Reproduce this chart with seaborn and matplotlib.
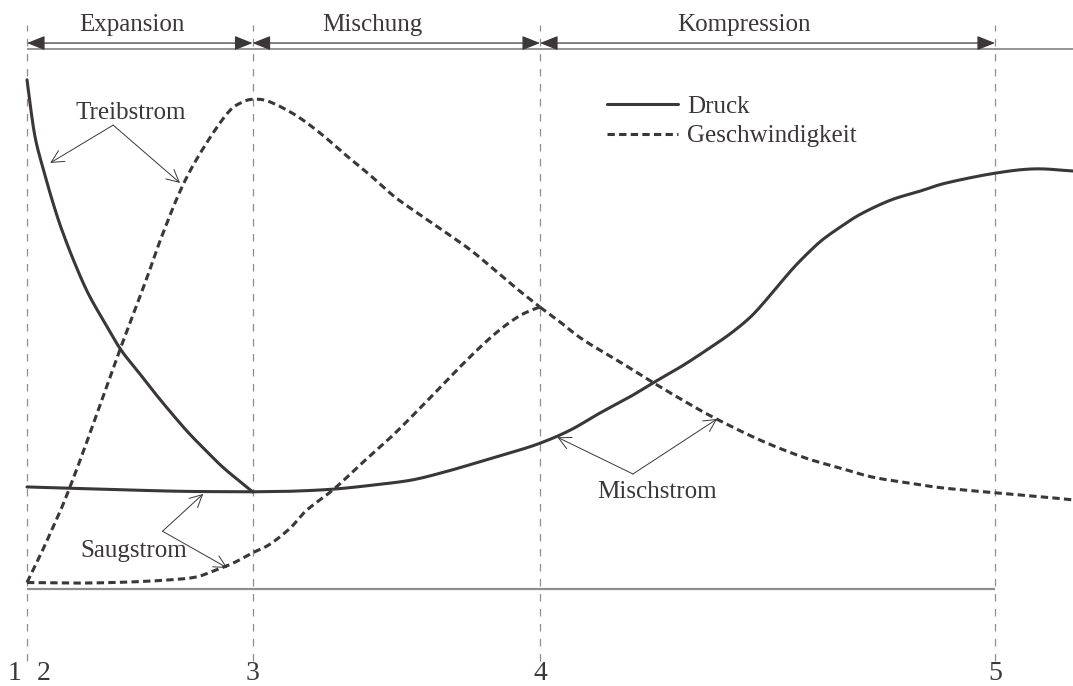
import numpy as np
import matplotlib
matplotlib.use("Agg")
import matplotlib.pyplot as plt
import seaborn as sns

# Axial position in % of ejector length (station 1 = 0, station 5 = 100),
# magnitudes in % of the plot scale (baseline = 0, top rule = 100).
station_names = ["1", "2", "3", "4", "5"]
station_label_x = [-1.3, 1.7, 23.3, 53.0, 100.0]
station_lines_x = [0.0, 23.3, 53.0, 100.0]

section_names = ["Expansion", "Mischung", "Kompression"]
section_start = [0.0, 23.3, 53.0]
section_end = [23.3, 53.0, 100.0]
section_label_x = [10.8, 35.7, 74.1]

# Pressure (Druck)
p_treib_x = [0.0, 0.4, 0.9, 1.7, 2.6, 3.5, 4.8, 6.3, 8.0, 9.7, 11.5, 13.2,
             15.0, 16.7, 18.5, 20.2, 21.8, 23.3]
p_treib_y = [94.3, 88.7, 83.1, 77.6, 72.0, 67.0, 60.9, 54.8, 49.4, 44.3, 40.2,
             36.3, 32.4, 28.9, 25.6, 22.6, 20.2, 18.0]
p_saug_x = [0.0, 7.5, 15.8, 23.3]
p_saug_y = [18.9, 18.5, 18.1, 18.0]
p_misch_x = [23.3, 27.2, 31.7, 36.0, 39.8, 43.2, 46.3, 49.9, 53.0, 56.1, 59.2,
             62.3, 64.8, 67.5, 70.0, 72.6, 74.7, 76.2, 77.8, 79.3, 80.9, 82.2,
             84.0, 86.1, 89.2, 92.3, 95.0, 100.0, 104.1, 108.1]
p_misch_y = [18.0, 18.1, 18.5, 19.3, 20.2, 21.7, 23.3, 25.2, 27.0, 29.4, 32.6,
             35.6, 38.3, 41.1, 44.0, 47.2, 50.3, 53.2, 56.6, 59.7, 62.6, 64.7,
             67.0, 69.4, 72.0, 73.7, 75.2, 77.0, 77.8, 77.4]

# Velocity (Geschwindigkeit)
v_treib_x = [0.0, 1.3, 2.4, 3.8, 5.6, 7.6, 9.7, 12.2, 13.9, 16.0, 18.1, 20.7,
             22.3, 23.6, 25.1, 27.7, 30.3, 32.9, 35.4, 38.0, 40.6, 43.2, 45.8,
             48.1, 50.4, 53.0]
v_treib_y = [1.2, 6.0, 10.3, 16.0, 24.4, 34.4, 44.8, 56.7, 65.2, 74.4, 81.3,
             88.1, 90.2, 90.7, 90.2, 87.8, 84.4, 80.4, 76.7, 72.6, 69.3, 66.1,
             62.8, 59.4, 55.9, 52.2]
v_saug_x = [0.0, 5.5, 10.6, 14.8, 17.4, 19.2, 21.3, 23.3, 25.1, 27.2, 28.9,
            31.7, 34.6, 37.7, 41.1, 44.6, 47.3, 49.2, 50.9, 52.2, 53.0]
v_saug_y = [1.2, 1.1, 1.3, 1.7, 2.2, 3.3, 4.8, 6.7, 8.3, 11.3, 14.6, 18.5,
            23.3, 28.3, 34.4, 40.9, 45.6, 48.5, 50.6, 51.7, 52.2]
v_misch_x = [53.0, 55.1, 57.5, 61.3, 64.8, 67.9, 71.0, 75.7, 80.2, 84.0, 87.4,
             91.2, 94.7, 100.2, 104.1, 108.1]
v_misch_y = [52.2, 49.4, 46.1, 42.0, 38.1, 34.8, 31.7, 27.6, 24.4, 22.4, 20.7,
             19.6, 18.7, 17.8, 17.2, 16.5]

# Callouts: label position, branching point and the two targets
callout_names = ["Treibstrom", "Saugstrom", "Mischstrom"]
callout_text_x = [10.7, 11.0, 65.1]
callout_text_y = [87.0, 5.9, 16.9]
callout_knee_x = [8.9, 14.0, 62.6]
callout_knee_y = [85.9, 10.7, 21.3]
callout_tip1_x = [2.4, 18.2, 54.8]
callout_tip1_y = [78.9, 17.6, 28.1]
callout_tip2_x = [15.8, 20.7, 71.3]
callout_tip2_y = [75.2, 3.9, 31.5]

legend_labels = ["Druck", "Geschwindigkeit"]

INK = "#3b3637"
RULE = "#8e8e8e"
DASHED = (0, (2.4, 1.4))

XLIM = (-2.79, 108.06)
YLIM = (-17.96, 109.07)


def smooth_path(xs, ys, steps=12):
    """Catmull-Rom path through the given points, for a smooth stroke."""
    pts = np.column_stack([xs, ys]).astype(float)
    ext = np.vstack([2 * pts[0] - pts[1], pts, 2 * pts[-1] - pts[-2]])
    out = []
    t = np.linspace(0, 1, steps, endpoint=False)[:, None]
    for i in range(1, len(ext) - 2):
        p0, p1, p2, p3 = ext[i - 1], ext[i], ext[i + 1], ext[i + 2]
        seg = 0.5 * ((2 * p1) + (-p0 + p2) * t
                     + (2 * p0 - 5 * p1 + 4 * p2 - p3) * t ** 2
                     + (-p0 + 3 * p1 - 3 * p2 + p3) * t ** 3)
        out.append(seg)
    out.append(pts[-1][None, :])
    path = np.vstack(out)
    return path[:, 0], path[:, 1]


sns.set_theme(style="white")
plt.rcParams["font.family"] = ["Liberation Serif", "DejaVu Serif"]
plt.rcParams["text.color"] = INK

fig = plt.figure(figsize=(10.73, 6.86), dpi=100)
ax = fig.add_axes([0, 0, 1, 1])
ax.set_xlim(*XLIM)
ax.set_ylim(*YLIM)
ax.axis("off")

yspan = YLIM[1] - YLIM[0]
# station lines
for xs in station_lines_x:
    ax.axvline(xs, ymin=(-13.3 - YLIM[0]) / yspan, ymax=(104.4 - YLIM[0]) / yspan,
               color=RULE, lw=0.9, ls=(0, (6, 6)), zorder=1)

# baseline and top rule
ax.hlines(0, station_lines_x[0], station_lines_x[-1], color=RULE, lw=1.6, zorder=1)
ax.hlines(100, station_lines_x[0], XLIM[1], color=RULE, lw=1.3, zorder=1)

# section dimension arrows
for name, x0, x1, xl in zip(section_names, section_start, section_end, section_label_x):
    ax.annotate("", xy=(x1, 101.1), xytext=(x0, 101.1),
                arrowprops=dict(arrowstyle="<|-|>,head_length=0.55,head_width=0.22",
                                mutation_scale=20, color=INK, lw=0.9,
                                shrinkA=0, shrinkB=0))
    ax.text(xl, 103.3, name, ha="center", va="baseline", fontsize=18, color=INK)

# curves
line_kw = dict(ax=ax, sort=False, color=INK, lw=2.2, estimator=None)
curves = [
    (p_treib_x, p_treib_y, "-"),
    (p_saug_x, p_saug_y, "-"),
    (p_misch_x, p_misch_y, "-"),
    (v_treib_x, v_treib_y, DASHED),
    (v_saug_x, v_saug_y, DASHED),
    (v_misch_x, v_misch_y, DASHED),
]
handles = []
for cx, cy, ls in curves:
    sx, sy = smooth_path(cx, cy)
    n_before = len(ax.lines)
    sns.lineplot(x=sx, y=sy, linestyle=ls, **line_kw)
    handles.append(ax.lines[n_before])

leg = ax.legend(handles=[handles[0], handles[3]], labels=legend_labels,
                loc="upper left", bbox_to_anchor=(59.9, 91.4),
                bbox_transform=ax.transData, frameon=False, fontsize=18,
                handlelength=2.85, handletextpad=0.35, labelspacing=0.28,
                borderpad=0, borderaxespad=0)
for t in leg.get_texts():
    t.set_color(INK)

# callouts
arrow_kw = dict(arrowstyle="->,head_length=0.55,head_width=0.28",
                mutation_scale=16, color=INK, lw=0.7, shrinkA=0, shrinkB=0)
for i, name in enumerate(callout_names):
    ax.text(callout_text_x[i], callout_text_y[i], name, ha="center",
            va="baseline", fontsize=18, color=INK)
    knee = (callout_knee_x[i], callout_knee_y[i])
    ax.annotate("", xy=(callout_tip1_x[i], callout_tip1_y[i]), xytext=knee,
                arrowprops=arrow_kw)
    ax.annotate("", xy=(callout_tip2_x[i], callout_tip2_y[i]), xytext=knee,
                arrowprops=arrow_kw)

# station numbers
for name, xs in zip(station_names, station_label_x):
    ax.text(xs, -16.8, name, ha="center", va="baseline", fontsize=20, color=INK)

fig.savefig("out.png", dpi=100)
